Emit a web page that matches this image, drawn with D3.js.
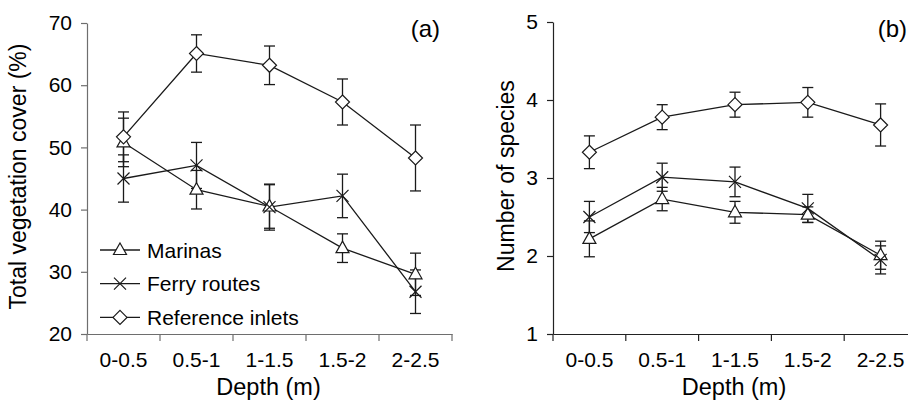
<!DOCTYPE html>
<html>
<head>
<meta charset="utf-8">
<script src="https://cdnjs.cloudflare.com/ajax/libs/d3/7.8.5/d3.min.js"></script>
<style>
  body { margin: 0; background: #fff; }
  svg { display: block; font-family: 'Liberation Sans', Arial, sans-serif; }
</style>
</head>
<body>
<div id="chart"></div>
<script>
// depth classes shared by both panels
const depths = ['0-0.5', '0.5-1', '1-1.5', '1.5-2', '2-2.5'];

// (a) total vegetation cover, % (mean and error)
const coverMarinas = [50.8, 43.2, 40.5, 33.8, 29.6];
const coverMarinasErr = [3.9, 3.1, 3.5, 2.3, 3.4];
const coverFerry = [45.0, 47.1, 40.4, 42.2, 26.8];
const coverFerryErr = [3.8, 3.7, 3.7, 3.5, 3.5];
const coverReference = [51.7, 65.1, 63.2, 57.3, 48.3];
const coverReferenceErr = [4.0, 3.0, 3.1, 3.7, 5.3];
const coverTicks = [20, 30, 40, 50, 60, 70];

// (b) number of species (mean and error)
const speciesMarinas = [2.22, 2.73, 2.56, 2.53, 2.01];
const speciesMarinasErr = [0.23, 0.15, 0.14, 0.10, 0.18];
const speciesFerry = [2.50, 3.01, 2.95, 2.61, 1.95];
const speciesFerryErr = [0.20, 0.18, 0.19, 0.18, 0.18];
const speciesReference = [3.33, 3.78, 3.94, 3.97, 3.68];
const speciesReferenceErr = [0.21, 0.16, 0.16, 0.19, 0.27];
const speciesTicks = [1, 2, 3, 4, 5];

const seriesNames = ['Marinas', 'Ferry routes', 'Reference inlets'];
const seriesShapes = ['triangle', 'cross', 'diamond'];

const W = 908, H = 401;
const INK = '#1a1a1a';
const FONT = "'Liberation Sans', Arial, sans-serif";

const svg = d3.select('#chart')
  .append('svg')
  .attr('width', W)
  .attr('height', H);

// marker path centred on 0,0
const markerPath = shape => {
  if (shape === 'triangle') return 'M0,-7L6.5,4.5L-6.5,4.5Z';
  if (shape === 'diamond') return 'M0,-7L7,0L0,7L-7,0Z';
  return 'M-6,-6L6,6M6,-6L-6,6';
};

const drawMarker = (g, shape, x, y) => {
  g.append('path')
    .attr('transform', `translate(${x},${y})`)
    .attr('d', markerPath(shape))
    .attr('fill', shape === 'cross' ? 'none' : '#fff')
    .attr('stroke', INK)
    .attr('stroke-width', 1.2);
};

const drawPanel = ({ left, right, top, bottom, domain, ticks, series, yTitle, yTitleOffset, tag, axisColor }) => {
  const g = svg.append('g');

  const x = d3.scaleBand()
    .domain(depths)
    .range([left, right])
    .padding(0);

  const y = d3.scaleLinear()
    .domain(domain)
    .range([bottom, top]);

  // y axis
  const yG = g.append('g')
    .attr('transform', `translate(${left},0)`)
    .call(d3.axisLeft(y).tickValues(ticks).tickFormat(d3.format('d'))
      .tickSize(6).tickPadding(9).tickSizeOuter(0));
  yG.selectAll('path, line').attr('stroke', axisColor).attr('stroke-width', 1.2);
  yG.selectAll('text')
    .attr('fill', '#000')
    .style('font-size', '21px')
    .style('font-family', FONT);

  // x axis: labels at band centres, ticks at band edges
  const xG = g.append('g')
    .attr('transform', `translate(0,${bottom})`)
    .call(d3.axisBottom(x).tickSize(0).tickPadding(18).tickSizeOuter(0));
  xG.select('path').attr('stroke', axisColor).attr('stroke-width', 1.2);
  xG.selectAll('text')
    .attr('fill', '#000')
    .style('font-size', '21px')
    .style('font-family', FONT);
  const edges = depths.map(d => x(d)).concat([x.range()[1]]);
  xG.selectAll('line.edge')
    .data(edges)
    .enter()
    .append('line')
    .attr('class', 'edge')
    .attr('x1', d => d)
    .attr('x2', d => d)
    .attr('y1', 0)
    .attr('y2', 7)
    .attr('stroke', axisColor)
    .attr('stroke-width', 1.2);

  // axis titles
  g.append('text')
    .attr('x', (left + right) / 2 - 1)
    .attr('y', 395)
    .attr('text-anchor', 'middle')
    .style('font-size', '23.5px')
    .text('Depth (m)');

  g.append('text')
    .attr('transform', `translate(${left - yTitleOffset},${(top + bottom) / 2 - 2}) rotate(-90)`)
    .attr('text-anchor', 'middle')
    .style('font-size', '23px')
    .text(yTitle);

  g.append('text')
    .attr('x', tag.x)
    .attr('y', 37)
    .attr('text-anchor', 'end')
    .style('font-size', '24px')
    .text(tag.text);

  const cx = d => x(d) + x.bandwidth() / 2;
  const line = d3.line()
    .x(d => cx(d.depth))
    .y(d => y(d.value));

  series.forEach(s => {
    const pts = depths.map((d, i) => ({ depth: d, value: s.values[i], err: s.errs[i] }));

    // error bars
    const eb = g.append('g')
      .attr('stroke', INK)
      .attr('stroke-width', 1.3);
    pts.forEach(p => {
      const px = cx(p.depth);
      eb.append('line')
        .attr('x1', px).attr('x2', px)
        .attr('y1', y(p.value - p.err)).attr('y2', y(p.value + p.err));
      [p.value - p.err, p.value + p.err].forEach(v => {
        eb.append('line')
          .attr('x1', px - 5.5).attr('x2', px + 5.5)
          .attr('y1', y(v)).attr('y2', y(v));
      });
    });

    g.append('path')
      .datum(pts)
      .attr('d', line)
      .attr('fill', 'none')
      .attr('stroke', INK)
      .attr('stroke-width', 1.3);
  });

  // markers on top
  series.forEach((s, si) => {
    const mg = g.append('g');
    depths.forEach((d, i) => drawMarker(mg, seriesShapes[si], cx(d), y(s.values[i])));
  });

  return g;
};

const panelA = drawPanel({
  left: 87, right: 452, top: 23, bottom: 334,
  domain: [20, 70], ticks: coverTicks,
  series: [
    { values: coverMarinas, errs: coverMarinasErr },
    { values: coverFerry, errs: coverFerryErr },
    { values: coverReference, errs: coverReferenceErr },
  ],
  yTitle: 'Total vegetation cover (%)',
  yTitleOffset: 61,
  tag: { x: 440, text: '(a)' },
  axisColor: '#6e6e6e',
});

drawPanel({
  left: 553, right: 917, top: 22, bottom: 334,
  domain: [1, 5], ticks: speciesTicks,
  series: [
    { values: speciesMarinas, errs: speciesMarinasErr },
    { values: speciesFerry, errs: speciesFerryErr },
    { values: speciesReference, errs: speciesReferenceErr },
  ],
  yTitle: 'Number of species',
  yTitleOffset: 39,
  tag: { x: 907, text: '(b)' },
  axisColor: '#222',
});

// legend inside panel (a)
const legend = panelA.append('g');
seriesNames.forEach((name, i) => {
  const ly = 250 + i * 33.7;
  legend.append('line')
    .attr('x1', 100).attr('x2', 140)
    .attr('y1', ly).attr('y2', ly)
    .attr('stroke', INK)
    .attr('stroke-width', 1.3);
  drawMarker(legend, seriesShapes[i], 120, ly);
  legend.append('text')
    .attr('x', 147)
    .attr('y', ly)
    .attr('dy', '0.36em')
    .style('font-size', '21px')
    .text(name);
});
</script>
</body>
</html>
